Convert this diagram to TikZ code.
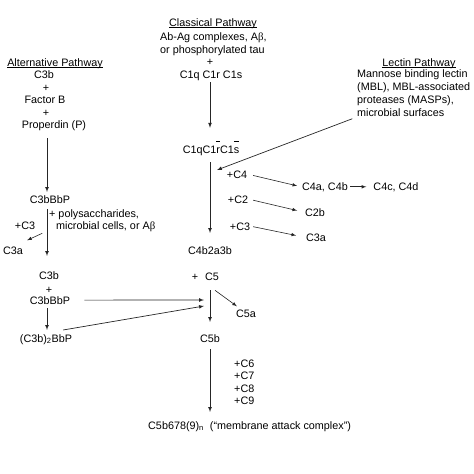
\documentclass[tikz,border=0pt]{standalone}
\usepackage{fontspec}
\setmainfont{Liberation Sans}
\newfontfamily\grkfont{Liberation Serif}
\usepackage{tikz}
\usetikzlibrary{calc,positioning}
\tikzset{lbl/.style={draw=none, inner sep=1pt, anchor=base}}
\tikzset{lblw/.style={draw=none, inner sep=1pt, anchor=base west}}
\tikzset{
  edgeflow/.style={black!85, line width=0.7pt, -latex},
  edgeside/.style={black!85, line width=0.6pt, -latex}
}
\newcommand\Abeta{A{\grkfont β}}
\newcommand\act[1]{$\overline{\mbox{\rule{0pt}{10pt}#1}}$}
\newcommand\ttl[1]{\underline{\smash{#1}}}

\begin{document}
\begin{tikzpicture}[x=1pt, y=-1pt, font=\fontsize{10.8}{13}\selectfont]
\useasboundingbox (0,0) rectangle (474,474);
\coordinate (clcol) at (210,0);
\coordinate (altcol) at (47,0);
\coordinate (lecin) at (217,170);
\coordinate (merge1) at (204,300);
\coordinate (merge2) at (204,306);
% classical pathway
\node[lbl](clt) at (213,26) {\ttl{Classical Pathway}};
\node[lblw](cla) at (159,40) {Ab-Ag complexes, \Abeta,};
\node[lblw](clb) at (159,53) {or phosphorylated tau};
\node[lbl](clp) at (210,65) {+};
\node[lbl](c1) at (211,78) {C1q C1r C1s};
\node[lbl](c1act) at (211,153) {C1qC1\act{r}C1\act{s}};
\node[lbl](pc4) at (237,178) {+C4};
\node[lbl](c4ab) at (325,190) {C4a, C4b};
\node[lbl](c4cd) at (396,190) {C4c, C4d};
\node[lbl](pc2) at (238,203) {+C2};
\node[lbl](c2b) at (315,216) {C2b};
\node[lbl](pc3) at (240,230) {+C3};
\node[lbl](c3a) at (316,241) {C3a};
\node[lbl](c4b2a3b) at (210,254) {C4b2a3b};
\node[lbl](c5p) at (195,280) {+};
\node[lbl](c5) at (212,280) {C5};
\node[lbl](c5a) at (246,317) {C5a};
\node[lbl](c5b) at (210,342) {C5b};
\node[lblw](pc6) at (233,367) {+C6};
\node[lblw](pc7) at (233,379) {+C7};
\node[lblw](pc8) at (233,392) {+C8};
\node[lblw](pc9) at (233,404) {+C9};
\node[lblw](mac) at (147,429) {C5b678(9)\textsubscript{n}\ \ (“membrane attack complex”)};
% lectin pathway
\node[lbl](lect) at (419,66) {\ttl{Lectin Pathway}};
\node[draw=none, inner sep=1pt, anchor=north west, align=left](lec) at (356,68)
  {Mannose binding lectin\\(MBL), MBL-associated\\proteases (MASPs),\\microbial surfaces};
% alternative pathway
\node[lbl](altt) at (55,66) {\ttl{Alternative Pathway}};
\node[lbl](a3b) at (44,78) {C3b};
\node[lbl](ap1) at (46,91) {+};
\node[lbl](afb) at (45,103) {Factor B};
\node[lbl](ap2) at (46,116) {+};
\node[lbl](aprop) at (54,128) {Properdin (P)};
\node[lbl](c3bbbp) at (50,203) {C3bBbP};
\node[lblw](apoly) at (48,217) {+ polysaccharides,};
\node[lblw](amic) at (55,229) {microbial cells, or \Abeta};
\node[lbl](apc3) at (25,229) {+C3};
\node[lbl](ac3a) at (13,254) {C3a};
\node[lbl](a3b2) at (49,279) {C3b};
\node[lbl](ap3) at (49,293) {+};
\node[lbl](c3bbbp2) at (50,304) {C3bBbP};
\node[lbl](c3b2bbp) at (46,342) {(C3b)\textsubscript{2}BbP};
% main column
\draw[edgeflow, shorten <=1pt, shorten >=12pt] (c1.south -| clcol) -- (c1act.north -| clcol);
\draw[edgeflow, shorten <=6pt, shorten >=12pt] (c1act.south -| clcol) -- (c4b2a3b.north -| clcol);
\draw[edgeflow, shorten <=4pt] (lec.south west) -- (lecin);
\draw[edgeside, shorten <=5pt, shorten >=4pt] (pc4.east) -- (c4ab.west);
\draw[edgeside, shorten <=1pt, shorten >=6pt] (c4ab.east) -- (c4cd.west);
\draw[edgeside, shorten <=4pt, shorten >=7pt] (pc2.east) -- (c2b.west);
\draw[edgeside, shorten <=2pt, shorten >=9pt] (pc3.east) -- (c3a.west);
\draw[edgeflow, shorten <=9pt, shorten >=11pt] (c5.south -| clcol) -- (c5b.north -| clcol);
\draw[edgeside] ([shift={(3,9)}]c5.south) -- ([shift={(2,-2)}]c5a.north west);
\draw[edgeflow, shorten <=6pt, shorten >=8pt] (c5b.south -| clcol) -- (mac.north -| clcol);
% alternative column
\draw[edgeflow, shorten <=7pt, shorten >=2pt] (aprop.south -| altcol) -- (c3bbbp.north -| altcol);
\draw[edgeflow, shorten <=5pt, shorten >=14pt] (c3bbbp.south -| altcol) -- (a3b2.north -| altcol);
\draw[edgeside] ([shift={(6,3)}]apc3.south east) -- ([shift={(3,-5)}]ac3a.north east);
\draw[edgeflow, shorten <=13pt] (c3bbbp2.east) -- (merge1);
\draw[edgeflow, shorten <=3pt, shorten >=3pt] (c3bbbp2.south -| altcol) -- (c3b2bbp.north -| altcol);
\draw[edgeflow] ([shift={(-10,-3)}]c3b2bbp.north east) -- (merge2);
\end{tikzpicture}
\end{document}
